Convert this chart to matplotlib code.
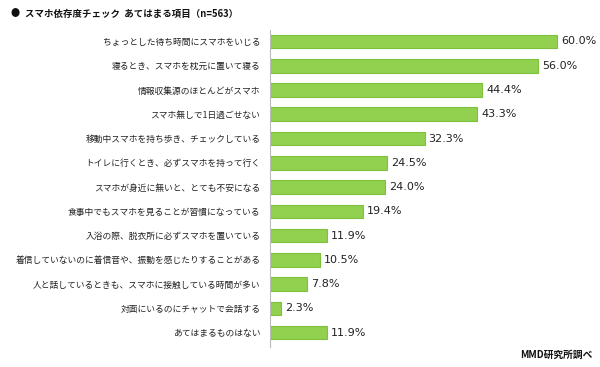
import matplotlib
matplotlib.use("Agg")
import matplotlib.pyplot as plt

plt.rcParams['font.family'] = ['Noto Sans CJK JP', 'DejaVu Sans']

items = [
    'ちょっとした待ち時間にスマホをいじる',
    '寝るとき、スマホを枕元に置いて寝る',
    '情報収集源のほとんどがスマホ',
    'スマホ無しで1日過ごせない',
    '移動中スマホを持ち歩き、チェックしている',
    'トイレに行くとき、必ずスマホを持って行く',
    'スマホが身近に無いと、とても不安になる',
    '食事中でもスマホを見ることが習慣になっている',
    '入浴の際、脱衣所に必ずスマホを置いている',
    '着信していないのに着信音や、振動を感じたりすることがある',
    '人と話しているときも、スマホに接触している時間が多い',
    '対面にいるのにチャットで会話する',
    'あてはまるものはない',
]
values = [60.0, 56.0, 44.4, 43.3, 32.3, 24.5, 24.0, 19.4, 11.9, 10.5, 7.8, 2.3, 11.9]

fig = plt.figure(figsize=(6, 3.67), dpi=100)
ax = fig.add_axes([0.45, 0.054, 0.5, 0.864])

pos = list(range(len(items)))
ax.barh(pos, values, height=0.56, color='#92D050', edgecolor='#7CC23A', linewidth=0.8)
for p, v in zip(pos, values):
    ax.text(v + 0.8, p, f'{v:.1f}%', va='center', ha='left', fontsize=8,
            family='DejaVu Sans', color='#222222')

ax.set_yticks(pos)
ax.set_yticklabels(items, fontsize=6.3, color='#222222')
ax.tick_params(axis='y', length=0, pad=7)
ax.set_xticks([])
ax.set_xlim(0, 62.7)
ax.set_ylim(12.6, -0.47)
for s in ['top', 'right', 'bottom']:
    ax.spines[s].set_visible(False)
ax.spines['left'].set_color('#BBBBBB')
ax.spines['left'].set_linewidth(0.8)

fig.text(0.017, 0.963, '●', fontsize=6.5, va='center', ha='left', color='#111111')
fig.text(0.042, 0.963, 'スマホ依存度チェック  あてはまる項目（n=563）', fontsize=6.8,
         fontweight='bold', va='center', ha='left', color='#111111')
fig.text(0.988, 0.02, 'MMD研究所調べ', fontsize=7, fontweight='bold',
         va='bottom', ha='right', color='#111111')

fig.savefig('out.png', dpi=100)
